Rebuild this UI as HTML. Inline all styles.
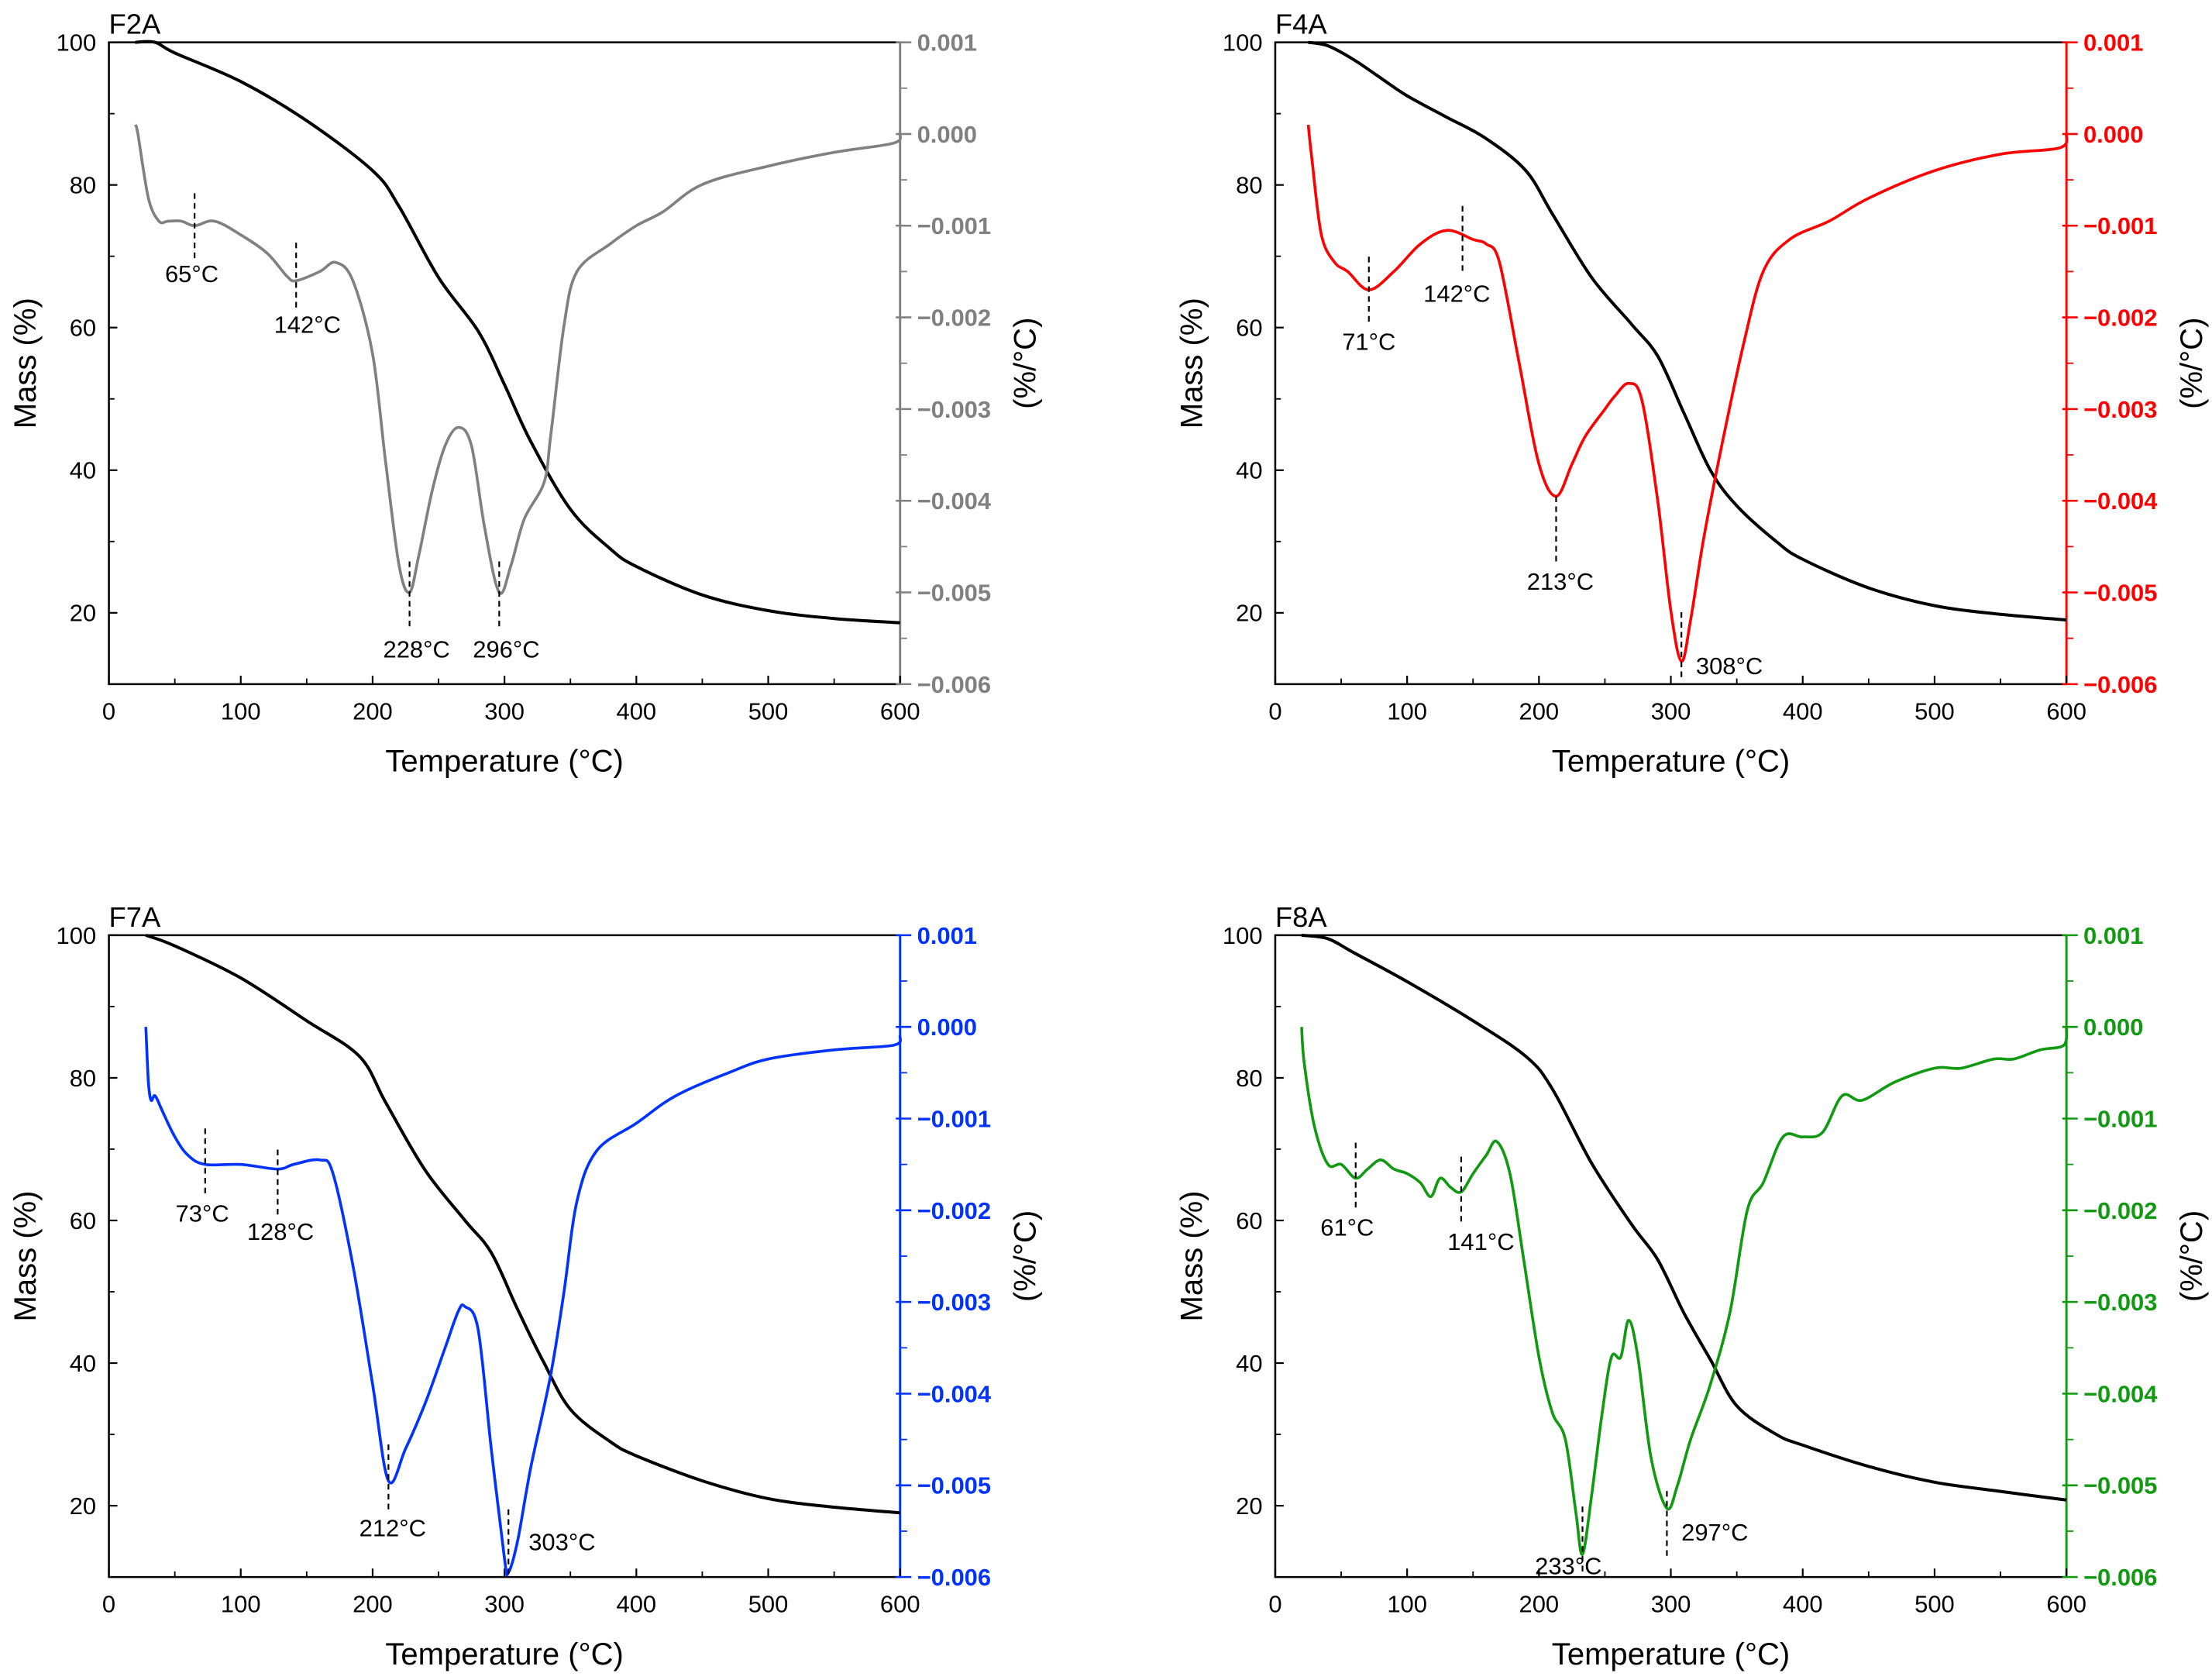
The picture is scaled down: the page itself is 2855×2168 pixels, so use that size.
<!DOCTYPE html>
<html><head><meta charset="utf-8"><style>
html,body{margin:0;padding:0;background:#fff}
svg{display:block}
text{font-family:"Liberation Sans",Arial,sans-serif}
</style></head><body>
<svg id="fig" width="2855" height="2168" viewBox="0 0 1568 1191" xmlns="http://www.w3.org/2000/svg"></svg>
<script>
// ---------- DATA ----------
const tempTicks = [0,100,200,300,400,500,600];
const massTicks = [20,40,60,80,100];
const derivTicks = [0.001,0.000,-0.001,-0.002,-0.003,-0.004,-0.005,-0.006];
const derivTickLabels = ["0.001","0.000","\u22120.001","\u22120.002","\u22120.003","\u22120.004","\u22120.005","\u22120.006"];
const panelNames = ["F2A","F4A","F7A","F8A"];
const panelColors = ["#808080","#ff0000","#0033ff","#119911"];

const massT_F2A = [20,35,50,100,150,200,220,250,280,300,320,350,380,400,450,500,550,600];
const massV_F2A = [100,100,98.5,94.5,89,82,77,67,59.5,52,44,34.5,29,26.5,22.5,20.3,19.2,18.6];
const derT_F2A = [20,22,30,38,45,55,65,80,100,120,135,142,160,172,185,200,210,220,228,235,245,255,265,275,285,296,305,315,330,335,345,355,380,400,420,450,500,550,595,600];
const derV_F2A = [0.1,0.0,-0.7,-0.95,-0.95,-0.95,-1.0,-0.95,-1.1,-1.3,-1.55,-1.6,-1.5,-1.4,-1.6,-2.4,-3.6,-4.7,-5.0,-4.6,-3.9,-3.4,-3.2,-3.4,-4.3,-5.0,-4.7,-4.2,-3.8,-3.3,-2.1,-1.5,-1.2,-1.0,-0.85,-0.55,-0.35,-0.2,-0.1,0.0];

const massT_F4A = [25,40,60,80,100,130,160,190,210,240,270,290,310,330,350,380,400,450,500,550,600];
const massV_F4A = [100,99.5,97.5,95,92.5,89.5,86.5,82,76,67,60.5,56,48,40,35,30,27.5,23.5,21,19.8,19];
const derT_F4A = [25,28,35,45,55,71,90,110,130,150,160,170,185,200,213,225,235,250,258,268,278,290,300,308,315,325,340,355,370,390,420,450,500,550,595,600];
const derV_F4A = [0.1,-0.3,-1.1,-1.4,-1.5,-1.7,-1.5,-1.2,-1.05,-1.15,-1.2,-1.4,-2.5,-3.6,-3.95,-3.6,-3.3,-3.0,-2.85,-2.72,-2.9,-4.0,-5.2,-5.75,-5.3,-4.4,-3.3,-2.3,-1.5,-1.15,-0.95,-0.7,-0.4,-0.22,-0.15,0.0];

const massT_F7A = [28,50,100,150,190,210,240,270,290,310,330,350,380,400,450,500,550,600];
const massV_F7A = [100,98.5,94,88,83,76.5,67,60,55.5,47.5,40,33.5,29,27,23.5,21,19.8,19];
const derT_F7A = [28,30,32,35,40,50,60,73,100,128,140,160,170,185,200,212,225,240,255,265,270,280,290,300,303,310,320,335,345,355,370,400,430,470,500,550,595,600];
const derV_F7A = [0.0,-0.6,-0.8,-0.75,-0.9,-1.2,-1.4,-1.5,-1.5,-1.55,-1.5,-1.45,-1.6,-2.6,-3.9,-4.95,-4.6,-4.1,-3.5,-3.1,-3.05,-3.3,-4.6,-5.8,-5.95,-5.6,-4.8,-3.8,-2.9,-1.9,-1.35,-1.05,-0.75,-0.5,-0.35,-0.25,-0.2,-0.1];

const massT_F8A = [20,40,60,100,150,190,210,240,270,290,310,330,350,380,400,450,500,550,600];
const massV_F8A = [100,99.5,97.5,93.5,88,83,78.5,68,59.5,54.5,47,40.5,34,30,28.5,25.5,23.3,22,20.8];
const derT_F8A = [20,22,30,40,50,61,70,80,90,100,110,118,125,133,141,150,160,168,178,188,200,210,220,228,233,240,248,255,262,268,275,285,297,305,315,330,345,358,370,385,400,415,430,445,470,500,520,545,560,580,598,600];
const derV_F8A = [0.0,-0.4,-1.1,-1.5,-1.5,-1.65,-1.55,-1.45,-1.55,-1.6,-1.7,-1.85,-1.65,-1.75,-1.8,-1.6,-1.4,-1.25,-1.6,-2.5,-3.6,-4.2,-4.5,-5.3,-5.75,-5.1,-4.2,-3.6,-3.6,-3.2,-3.6,-4.7,-5.25,-5.0,-4.5,-3.9,-3.1,-2.0,-1.7,-1.2,-1.2,-1.15,-0.75,-0.8,-0.6,-0.45,-0.45,-0.35,-0.35,-0.25,-0.2,0.0];

const peakT_F2A = [65,142,228,296];
const peakT_F4A = [71,142,213,308];
const peakT_F7A = [73,128,212,303];
const peakT_F8A = [61,141,233,297];

// ---------- LAYOUT ----------
const svg = document.getElementById('fig');
const NS = 'http://www.w3.org/2000/svg';
function mk(tag, attrs, parent){const e=document.createElementNS(NS,tag);for(const k in attrs)e.setAttribute(k,attrs[k]);(parent||svg).appendChild(e);return e;}
function smooth(pts){
  let d='M'+pts[0][0].toFixed(1)+' '+pts[0][1].toFixed(1);
  for(let i=0;i<pts.length-1;i++){
    const p0=pts[Math.max(0,i-1)],p1=pts[i],p2=pts[i+1],p3=pts[Math.min(pts.length-1,i+2)];
    const c1x=p1[0]+(p2[0]-p0[0])/6,c1y=p1[1]+(p2[1]-p0[1])/6;
    const c2x=p2[0]-(p3[0]-p1[0])/6,c2y=p2[1]-(p3[1]-p1[1])/6;
    d+=`C${c1x.toFixed(1)} ${c1y.toFixed(1)} ${c2x.toFixed(1)} ${c2y.toFixed(1)} ${p2[0].toFixed(1)} ${p2[1].toFixed(1)}`;
  }
  return d;
}

const panels = [
 {x0:77,x1:638,y0:30,y1:485,mT:massT_F2A,mV:massV_F2A,dT:derT_F2A,dV:derV_F2A,pk:peakT_F2A,
  ann:[[137,185,65,-2,200],[172,218,142,8,236],[398,445,228,5,466],[398,445,296,5,466]]},
 {x0:904,x1:1465,y0:30,y1:485,mT:massT_F4A,mV:massV_F4A,dT:derT_F4A,dV:derV_F4A,pk:peakT_F4A,
  ann:[[182,230,71,0,248],[146,192,142,-4,214],[352,400,213,3,418],[434,482,308,34,478]]},
 {x0:77,x1:638,y0:663,y1:1118,mT:massT_F7A,mV:massV_F7A,dT:derT_F7A,dV:derV_F7A,pk:peakT_F7A,
  ann:[[800,848,73,-2,866],[815,863,128,2,879],[1024,1072,212,3,1089],[1070,1118,303,38,1099]]},
 {x0:904,x1:1465,y0:663,y1:1118,mT:massT_F8A,mV:massV_F8A,dT:derT_F8A,dV:derV_F8A,pk:peakT_F8A,
  ann:[[810,858,61,-6,876],[820,868,141,14,886],[1068,1116,233,-10,1116],[1057,1105,297,34,1092]]}
];

panels.forEach((p,i)=>{
  const col = panelColors[i];
  const g = mk('g',{});
  
  
  const xs = t => p.x0 + (t/600)*(p.x1-p.x0);
  const ym = m => p.y1 - ((m-10)/90)*(p.y1-p.y0);
  const yd = v => p.y0 + ((0.001 - v)/0.007)*(p.y1-p.y0);

  const fr = mk('path',{d:`M${p.x1} ${p.y0}H${p.x0}V${p.y1}H${p.x1}`,fill:'none',stroke:'#000','stroke-width':1.4},g);
   
  const ra = mk('line',{x1:p.x1,y1:p.y0,x2:p.x1,y2:p.y1,stroke:col,'stroke-width':1.6},g);
   

  tempTicks.forEach((t,k)=>{
    mk('line',{x1:xs(t),y1:p.y1,x2:xs(t),y2:p.y1-6,stroke:'#000','stroke-width':1.2},g);
    if(k<tempTicks.length-1) mk('line',{x1:xs(t+50),y1:p.y1,x2:xs(t+50),y2:p.y1-4,stroke:'#000','stroke-width':1},g);
    const tx = mk('text',{x:xs(t),y:p.y1+25,'font-size':17,'text-anchor':'middle',fill:'#000'},g);
    tx.textContent=t;
     
  });
  massTicks.forEach(m=>{
    mk('line',{x1:p.x0,y1:ym(m),x2:p.x0+6,y2:ym(m),stroke:'#000','stroke-width':1.2},g);
    mk('line',{x1:p.x0,y1:ym(m-10),x2:p.x0+4,y2:ym(m-10),stroke:'#000','stroke-width':1},g);
    const tx = mk('text',{x:p.x0-9,y:ym(m)+6,'font-size':17,'text-anchor':'end',fill:'#000'},g);
    tx.textContent=m;
     
  });
  derivTicks.forEach((v,k)=>{
    mk('line',{x1:p.x1-3,y1:yd(v),x2:p.x1+8,y2:yd(v),stroke:col,'stroke-width':1.4},g);
    if(k<derivTicks.length-1) mk('line',{x1:p.x1,y1:yd(v-0.0005),x2:p.x1+5,y2:yd(v-0.0005),stroke:col,'stroke-width':1},g);
    const tx = mk('text',{x:p.x1+12,y:yd(v)+6,'font-size':17,'font-weight':'bold',fill:col},g);
    tx.textContent=derivTickLabels[k];
     
  });
  const xt = mk('text',{x:(p.x0+p.x1)/2,y:p.y1+62,'font-size':22,'text-anchor':'middle',fill:'#000'},g);
  xt.textContent='Temperature (°C)';
   
  const yt = mk('text',{x:0,y:0,'font-size':22,'text-anchor':'middle',fill:'#000',transform:`translate(${p.x0-52},${(p.y0+p.y1)/2}) rotate(-90)`},g);
  yt.textContent='Mass (%)';
   
  const rt = mk('text',{x:0,y:0,'font-size':22,'text-anchor':'middle',fill:'#000',transform:`translate(${p.x1+96},${(p.y0+p.y1)/2}) rotate(-90)`},g);
  rt.textContent='(%/°C)';
   
  const pt = mk('text',{x:p.x0,y:p.y0-6,'font-size':20,fill:'#000'},g);
  pt.textContent=panelNames[i];
   

  const mp = mk('path',{d:smooth(p.mT.map((t,k)=>[xs(t),ym(p.mV[k])])),fill:'none',stroke:'#000','stroke-width':2.2,'stroke-linejoin':'round'},g);
   
  const dp = mk('path',{d:smooth(p.dT.map((t,k)=>[xs(t),yd(p.dV[k]/1000)])),fill:'none',stroke:col,'stroke-width':2,'stroke-linejoin':'round'},g);
   

  p.ann.forEach((a,k)=>{
    const t = p.pk[k];
    mk('line',{x1:xs(t),y1:a[0],x2:xs(t),y2:a[1],stroke:'#000','stroke-width':1.2,'stroke-dasharray':'4,3'},g);
    const tx = mk('text',{x:xs(t)+a[3],y:a[4],'font-size':17,'text-anchor':'middle',fill:'#000'},g);
    tx.textContent=t+'°C';
     
  });
});
</script>
</body></html>
